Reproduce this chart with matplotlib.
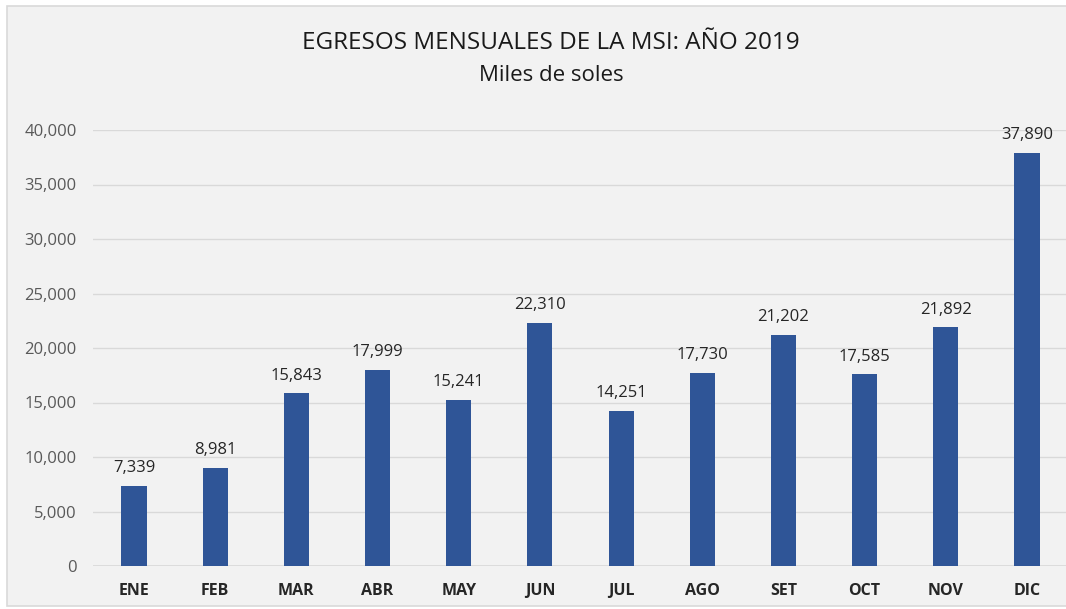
import matplotlib
matplotlib.use("Agg")
import matplotlib.pyplot as plt
from matplotlib.patches import Rectangle
from matplotlib.ticker import FuncFormatter

months = ["ENE", "FEB", "MAR", "ABR", "MAY", "JUN", "JUL", "AGO", "SET", "OCT", "NOV", "DIC"]
values = [7339, 8981, 15843, 17999, 15241, 22310, 14251, 17730, 21202, 17585, 21892, 37890]
yticks = [0, 5000, 10000, 15000, 20000, 25000, 30000, 35000, 40000]
title = "EGRESOS MENSUALES DE LA MSI: AÑO 2019"
subtitle = "Miles de soles"

W, H = 1066, 609
fig = plt.figure(figsize=(W / 100, H / 100), dpi=100)
fig.patch.set_facecolor("white")
fam = ["Open Sans", "DejaVu Sans"]

bg = Rectangle((7 / W, 3 / H), 1.0, (H - 9) / H, transform=fig.transFigure,
               facecolor="#f2f2f2", edgecolor="#d9d9d9", linewidth=1.2, zorder=-10)
fig.patches.append(bg)

ax = fig.add_axes([93.4 / W, 43 / H, 974.2 / W, 436 / H])
ax.set_zorder(5)
ax.set_facecolor("none")
x = list(range(len(months)))
ax.bar(x, values, width=0.31, color="#2f5597", zorder=3)
ax.set_xlim(-0.5, len(months) - 0.5)
ax.set_ylim(0, 40000)
ax.set_yticks(yticks)
ax.yaxis.set_major_formatter(FuncFormatter(lambda v, p: f"{int(v):,}"))
ax.grid(axis="y", color="#d9d9d9", linewidth=1.0, zorder=0)
ax.set_axisbelow(True)
for s in ax.spines.values():
    s.set_visible(False)
ax.axhline(0, color="#d9d9d9", linewidth=1.2, zorder=2)
ax.tick_params(axis="both", length=0)
ax.tick_params(axis="y", labelsize=12, labelcolor="#595959", pad=12)
ax.tick_params(axis="x", pad=12)
ax.set_xticks(x)
ax.set_xticklabels(months, fontsize=11.5, fontweight="bold", color="#262626", family=fam)
for lab in ax.get_yticklabels():
    lab.set_family(fam)

for xi, v in zip(x, values):
    ax.annotate(f"{v:,}", (xi, v), xytext=(0, 7), textcoords="offset points",
                ha="center", va="bottom", fontsize=12, color="#262626", family=fam)

fig.text(551 / W, 1 - 49 / H, title, ha="center", va="baseline", fontsize=17.5, color="#1a1a1a", family=fam)
fig.text(551 / W, 1 - 81 / H, subtitle, ha="center", va="baseline", fontsize=16, color="#1a1a1a", family=fam)

fig.savefig("out.png", dpi=100, facecolor=fig.get_facecolor())
